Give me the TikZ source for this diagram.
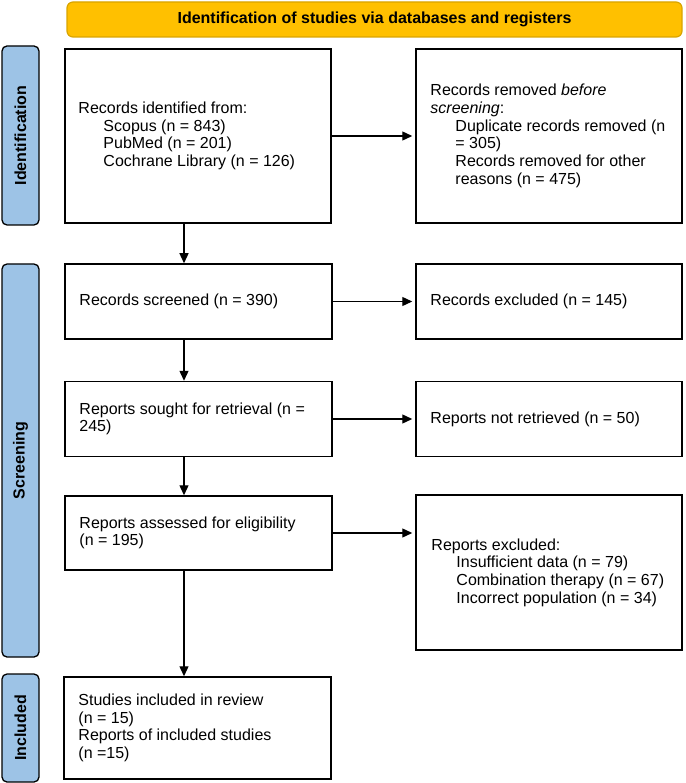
\documentclass[tikz,border=0pt]{standalone}
\usepackage{fontspec}
\setmainfont{Liberation Sans}
\usetikzlibrary{arrows.meta}
\definecolor{bannerfill}{HTML}{FFC000}
\definecolor{bannerline}{HTML}{D9A400}
\definecolor{sidefill}{HTML}{9DC3E6}
\begin{document}
\begin{tikzpicture}[x=1pt,y=-1pt,
  box/.style={draw=black, line width=1.5pt, rectangle, inner sep=0pt},
  txt/.style={anchor=west, align=left, inner sep=0pt, font=\fontsize{16}{17.7}\selectfont},
  sidebar/.style={draw=black, fill=sidefill, line width=1.3pt, rounded corners=5pt, inner sep=0pt, minimum width=37pt},
  sidelabel/.style={rotate=90, font=\bfseries\fontsize{16}{19}\selectfont, inner sep=0pt},
  arr/.style={line width=1.3pt, -{Triangle[length=10pt,width=9pt]}},
  harr/.style={arr, shorten >=3pt}]
\useasboundingbox (0,0) rectangle (685,783);

% banner
\node[draw=bannerline, fill=bannerfill, rounded corners=6pt, line width=1.2pt,
      minimum width=615pt, minimum height=35pt, inner sep=0pt,
      font=\bfseries\fontsize{16}{19}\selectfont] (banner) at (374.5,19.5)
      {Identification of studies via databases and registers};

% side bars
\node[sidebar, minimum height=179pt] (sid) at (20.5,135.5) {};
\node[sidelabel] (sidl) at (sid) {Identification};
\node[sidebar, minimum height=393pt] (sscr) at (20.5,460.5) {};
\node[sidelabel] (sscrl) at (sscr) {Screening};
\node[sidebar, minimum height=108pt] (sinc) at (20.5,728) {};
\node[sidelabel] (sincl) at (sinc) {Included};

% boxes
\node[box, minimum width=266pt, minimum height=174pt] (id) at (198,136) {};
\node[box, minimum width=266pt, minimum height=174pt] (rem) at (549,136) {};
\node[box, minimum width=267pt, minimum height=75pt] (scr) at (198.5,301.5) {};
\node[box, minimum width=266pt, minimum height=75pt] (excl) at (549,301.5) {};
\node[box, minimum width=267pt, minimum height=75pt] (sought) at (198.5,419) {};
\node[box, minimum width=266pt, minimum height=75pt] (notret) at (549,419) {};
\node[box, minimum width=267pt, minimum height=74pt] (assess) at (198.5,533) {};
\node[box, minimum width=266pt, minimum height=155pt] (exclrep) at (549,572.5) {};
\node[box, minimum width=267pt, minimum height=102pt] (incl) at (197.5,728) {};

% texts
\node[txt, xshift=14pt] (idt) at (id.west) {Records identified from:\\
  \hspace*{25pt}Scopus (n = 843)\\
  \hspace*{25pt}PubMed (n = 201)\\
  \hspace*{25pt}Cochrane Library (n = 126)};
\node[txt, xshift=15pt] (remt) at (rem.west) {Records removed \textit{before}\\
  \textit{screening}:\\
  \hspace*{25pt}Duplicate records removed (n\\
  \hspace*{25pt}= 305)\\
  \hspace*{25pt}Records removed for other\\
  \hspace*{25pt}reasons (n = 475)};
\node[txt, xshift=15pt] (scrt) at (scr.west) {Records screened (n = 390)};
\node[txt, xshift=15pt] (exclt) at (excl.west) {Records excluded (n = 145)};
\node[txt, xshift=15pt] (soughtt) at (sought.west) {Reports sought for retrieval (n =\\245)};
\node[txt, xshift=15pt] (notrett) at (notret.west) {Reports not retrieved (n = 50)};
\node[txt, xshift=15pt] (assesst) at (assess.west) {Reports assessed for eligibility\\(n = 195)};
\node[txt, xshift=16pt] (exclrept) at (exclrep.west) {Reports excluded:\\
  \hspace*{25pt}Insufficient data (n = 79)\\
  \hspace*{25pt}Combination therapy (n = 67)\\
  \hspace*{25pt}Incorrect population (n = 34)};
\node[txt, xshift=15pt] (inclt) at (incl.west) {Studies included in review\\
  (n = 15)\\
  Reports of included studies\\
  (n =15)};

% connectors
\coordinate (ax) at (184,0);
\draw[arr] (ax |- id.south) -- (ax |- scr.north);
\draw[arr] (ax |- scr.south) -- (ax |- sought.north);
\draw[arr] (ax |- sought.south) -- (ax |- assess.north);
\draw[arr] (ax |- assess.south) -- (ax |- incl.north);
\draw[harr] (id.east) -- (rem.west);
\draw[harr] (scr.east) -- (excl.west);
\draw[harr] (sought.east) -- (notret.west);
\draw[harr] (assess.east) -- (assess.east -| exclrep.west);
\end{tikzpicture}
\end{document}
